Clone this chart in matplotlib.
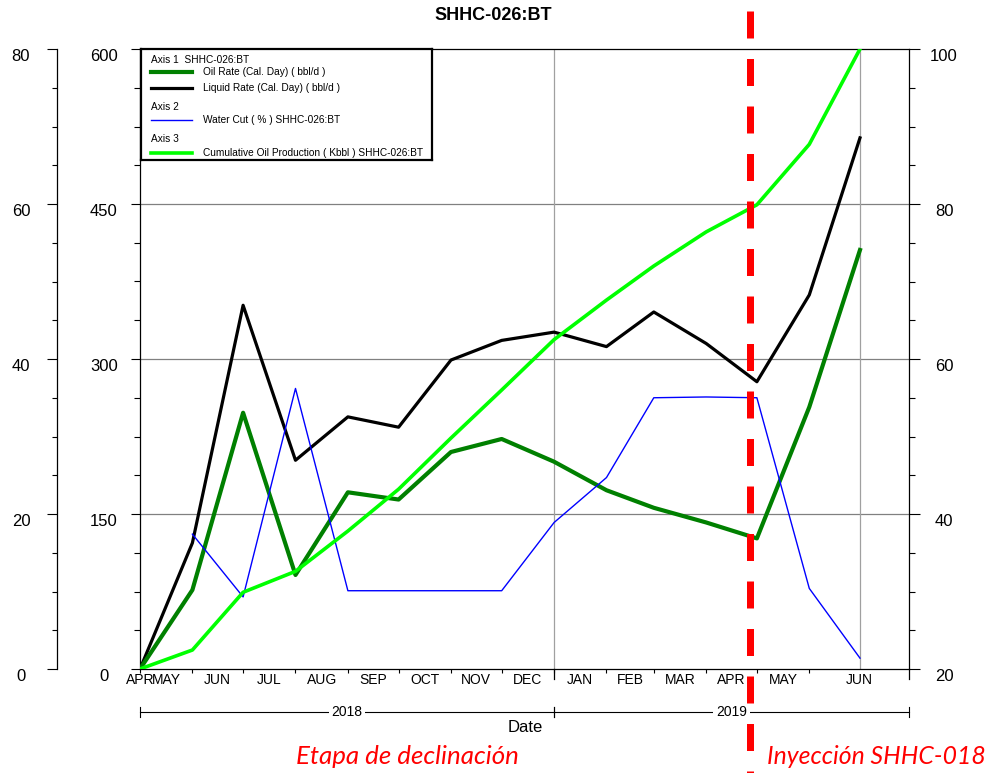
import matplotlib
matplotlib.use('Agg')
import matplotlib.pyplot as plt
import matplotlib.dates as mdates
from matplotlib.lines import Line2D
from matplotlib.ticker import FixedLocator, MultipleLocator, NullFormatter, FixedFormatter
from matplotlib.transforms import blended_transform_factory
import numpy as np
import datetime as dt

plt.rcParams['font.family'] = ['Liberation Sans', 'DejaVu Sans']
plt.rcParams['lines.scale_dashes'] = False

# ---------------- data ----------------
dates = ['2018-05-01', '2018-06-01', '2018-07-01', '2018-08-01', '2018-09-01',
         '2018-10-01', '2018-11-01', '2018-12-01', '2019-01-01', '2019-02-01',
         '2019-03-01', '2019-04-01', '2019-05-01', '2019-06-01', '2019-07-01']
oil_rate = [0, 76.5, 248, 91, 171, 164, 210, 222.6, 200.6, 173, 156, 141.8, 126.4, 253.5, 405.5]
liquid_rate = [0, 122, 352, 202, 244, 234, 299, 318, 326, 312, 345.5, 315, 278, 362, 514]
water_cut = [np.nan, 17.4, 9.3, 36.2, 10.1, 10.1, 10.1, 10.1, 18.9, 24.7, 35.0, 35.1, 35.0, 10.4, 1.4]
cum_oil = [20, 22.45, 29.9, 32.6, 37.8, 43.2, 49.8, 56.0, 62.5, 67.6, 72.0, 76.4, 79.9, 87.7, 100]

month_starts = ['2018-05-01', '2018-06-01', '2018-07-01', '2018-08-01', '2018-09-01',
                '2018-10-01', '2018-11-01', '2018-12-01', '2019-01-01', '2019-02-01',
                '2019-03-01', '2019-04-01', '2019-05-01', '2019-06-01']
month_labels = ['APR', 'MAY', 'JUN', 'JUL', 'AUG', 'SEP', 'OCT', 'NOV', 'DEC',
                'JAN', 'FEB', 'MAR', 'APR', 'MAY', 'JUN']
x_start, x_end = '2018-05-01', '2019-07-30'
year_bounds = ['2018-05-01', '2019-01-01', '2019-07-30']
year_labels = ['2018', '2019']
vgrid_dates = ['2019-01-01', '2019-07-01']
event_date = '2019-04-27'

# ---------------- helpers ----------------
def d(s):
    return mdates.date2num(dt.datetime.strptime(s, '%Y-%m-%d'))

x = [d(s) for s in dates]
xs, xe = d(x_start), d(x_end)
ms = [d(s) for s in month_starts]
bounds = ms + [xe]
label_pos = [xs] + [(bounds[i] + bounds[i + 1]) / 2 for i in range(len(ms))]

W, H = 991, 773
fig = plt.figure(figsize=(W / 100, H / 100), dpi=100)
L, R, T, B = 140, 909, 49, 669
ax = fig.add_axes([L / W, 1 - B / H, (R - L) / W, (B - T) / H])
PT = 72 / 100  # px -> pt

DKGREEN = '#008000'
LTGREEN = '#00ff00'
BLUE = '#0000ff'

# main axis: rates
ax.set_xlim(xs, xe)
ax.set_ylim(0, 600)
ax.yaxis.set_major_locator(MultipleLocator(150))
ax.yaxis.set_minor_locator(MultipleLocator(37.5))
for yv in [150, 300, 450]:
    ax.axhline(yv, color='#808080', lw=0.9, zorder=0)
for vd in vgrid_dates:
    ax.axvline(d(vd), color='#a0a0a0', lw=0.9, zorder=0)

ax.plot(x, liquid_rate, color='black', lw=2.3, zorder=3)
ax.plot(x, oil_rate, color=DKGREEN, lw=3.0, zorder=3)

ax.spines['right'].set_visible(False)
for s in ['left', 'bottom', 'top']:
    ax.spines[s].set_linewidth(0.9)
ax.tick_params(axis='y', which='major', direction='out', length=9 * PT, width=0.8,
               pad=27 * PT, labelsize=12)
ax.tick_params(axis='y', which='minor', direction='out', length=6 * PT, width=0.8)
for lab in ax.get_yticklabels():
    lab.set_horizontalalignment('center')
    lab.set_verticalalignment('top')

# x axis: month ticks + labels
ax.xaxis.remove_overlapping_locs = False
ax.xaxis.set_major_locator(FixedLocator(ms))
ax.xaxis.set_major_formatter(NullFormatter())
ax.xaxis.set_minor_locator(FixedLocator(label_pos))
ax.xaxis.set_minor_formatter(FixedFormatter(month_labels))
ax.tick_params(axis='x', which='major', direction='out', length=4 * PT, width=0.8)
ax.tick_params(axis='x', which='minor', length=0, pad=4 * PT, labelsize=10)

# water cut axis (outer left)
ax_wc = ax.twinx()
ax_wc.set_ylim(0, 80)
ax_wc.plot(x, water_cut, color=BLUE, lw=1.0, zorder=3)
ax_wc.yaxis.set_ticks_position('left')
ax_wc.yaxis.set_label_position('left')
ax_wc.spines['left'].set_position(('outward', 83 * PT))
ax_wc.spines['left'].set_visible(True)
ax_wc.spines['left'].set_linewidth(0.9)
for s in ['right', 'top', 'bottom']:
    ax_wc.spines[s].set_visible(False)
ax_wc.yaxis.set_major_locator(MultipleLocator(20))
ax_wc.yaxis.set_minor_locator(MultipleLocator(5))
ax_wc.tick_params(axis='y', which='major', direction='out', length=10 * PT, width=0.8,
                  pad=26 * PT, labelsize=12)
ax_wc.tick_params(axis='y', which='minor', direction='out', length=5 * PT, width=0.8)
for lab in ax_wc.get_yticklabels():
    lab.set_horizontalalignment('center')
    lab.set_verticalalignment('top')

# cumulative axis (right)
ax_cum = ax.twinx()
ax_cum.set_ylim(20, 100)
ax_cum.plot(x, cum_oil, color=LTGREEN, lw=2.6, zorder=4)
for s in ['left', 'top', 'bottom']:
    ax_cum.spines[s].set_visible(False)
ax_cum.spines['right'].set_linewidth(0.9)
ax_cum.yaxis.set_major_locator(MultipleLocator(20))
ax_cum.yaxis.set_minor_locator(MultipleLocator(5))
ax_cum.tick_params(axis='y', which='major', direction='out', length=11 * PT, width=0.8,
                   pad=24 * PT, labelsize=12)
ax_cum.tick_params(axis='y', which='minor', direction='out', length=6 * PT, width=0.8)
for lab in ax_cum.get_yticklabels():
    lab.set_horizontalalignment('center')
    lab.set_verticalalignment('top')

# year-boundary ticks (longer) and year brackets
tr = blended_transform_factory(ax.transData, ax.transAxes)
tick_len = 10 / (B - T)
for yb_date in year_bounds[1:]:
    xx = d(yb_date)
    ax.add_line(Line2D([xx, xx], [0, -tick_len], transform=tr, color='black', lw=0.9,
                       clip_on=False))
yb = -(712 - B) / (B - T)
ytk = 5 / (B - T)
for i, lab in enumerate(year_labels):
    x0, x1 = d(year_bounds[i]), d(year_bounds[i + 1])
    ax.add_line(Line2D([x0, x1], [yb, yb], transform=tr, color='black', lw=0.8, clip_on=False))
    for xx in (x0, x1):
        ax.add_line(Line2D([xx, xx], [yb - ytk, yb + ytk], transform=tr, color='black',
                           lw=0.8, clip_on=False))
    ax.text((x0 + x1) / 2, yb, lab, transform=tr, ha='center', va='center', fontsize=10,
            bbox=dict(facecolor='white', edgecolor='none', pad=2), clip_on=False)

fig.text(525 / W, 1 - 728 / H, 'Date', ha='center', va='center', fontsize=12)
fig.text(493 / W, 1 - 15 / H, 'SHHC-026:BT', ha='center', va='center', fontsize=13,
         fontweight='bold')

# legend box (manual, pixel layout)
lx0, ly0, lw_, lh_ = 141, 49, 291, 111
lg = fig.add_axes([lx0 / W, 1 - (ly0 + lh_) / H, lw_ / W, lh_ / H])
lg.set_xlim(0, lw_)
lg.set_ylim(lh_, 0)
lg.set_xticks([])
lg.set_yticks([])
for s in lg.spines.values():
    s.set_linewidth(1.6)
fs = 7.3
lg.text(10, 11, 'Axis 1  SHHC-026:BT', fontsize=fs, va='center')
lg.plot([10, 51], [23, 23], color=DKGREEN, lw=3.0)
lg.text(62, 23, 'Oil Rate (Cal. Day) ( bbl/d )', fontsize=fs, va='center')
lg.plot([10, 51], [39, 39], color='black', lw=2.3)
lg.text(62, 39, 'Liquid Rate (Cal. Day) ( bbl/d )', fontsize=fs, va='center')
lg.text(10, 58, 'Axis 2', fontsize=fs, va='center')
lg.plot([10, 51], [71, 71], color=BLUE, lw=1.0)
lg.text(62, 71, 'Water Cut ( % ) SHHC-026:BT', fontsize=fs, va='center')
lg.text(10, 90, 'Axis 3', fontsize=fs, va='center')
lg.plot([10, 51], [104, 104], color=LTGREEN, lw=2.6)
lg.text(62, 104, 'Cumulative Oil Production ( Kbbl ) SHHC-026:BT', fontsize=fs, va='center')

# red event line across the whole figure
trf = blended_transform_factory(ax.transData, fig.transFigure)
ev = Line2D([d(event_date), d(event_date)], [1 - 11 / H, 0], transform=trf, color='#ff0000',
            lw=7 * PT, linestyle=(0, (27 * PT, 20.5 * PT)), solid_capstyle='butt',
            dash_capstyle='butt', zorder=10)
fig.add_artist(ev)

fig.text(407 / W, 1 - 756 / H, 'Etapa de declinación', color='#ff0000', fontsize=18.6,
         style='italic', family=['Lato', 'DejaVu Sans'], ha='center', va='center')
fig.text(876 / W, 1 - 756 / H, 'Inyección SHHC-018', color='#ff0000', fontsize=17.8,
         style='italic', family=['Lato', 'DejaVu Sans'], ha='center', va='center')

fig.savefig('out.png', dpi=100)
